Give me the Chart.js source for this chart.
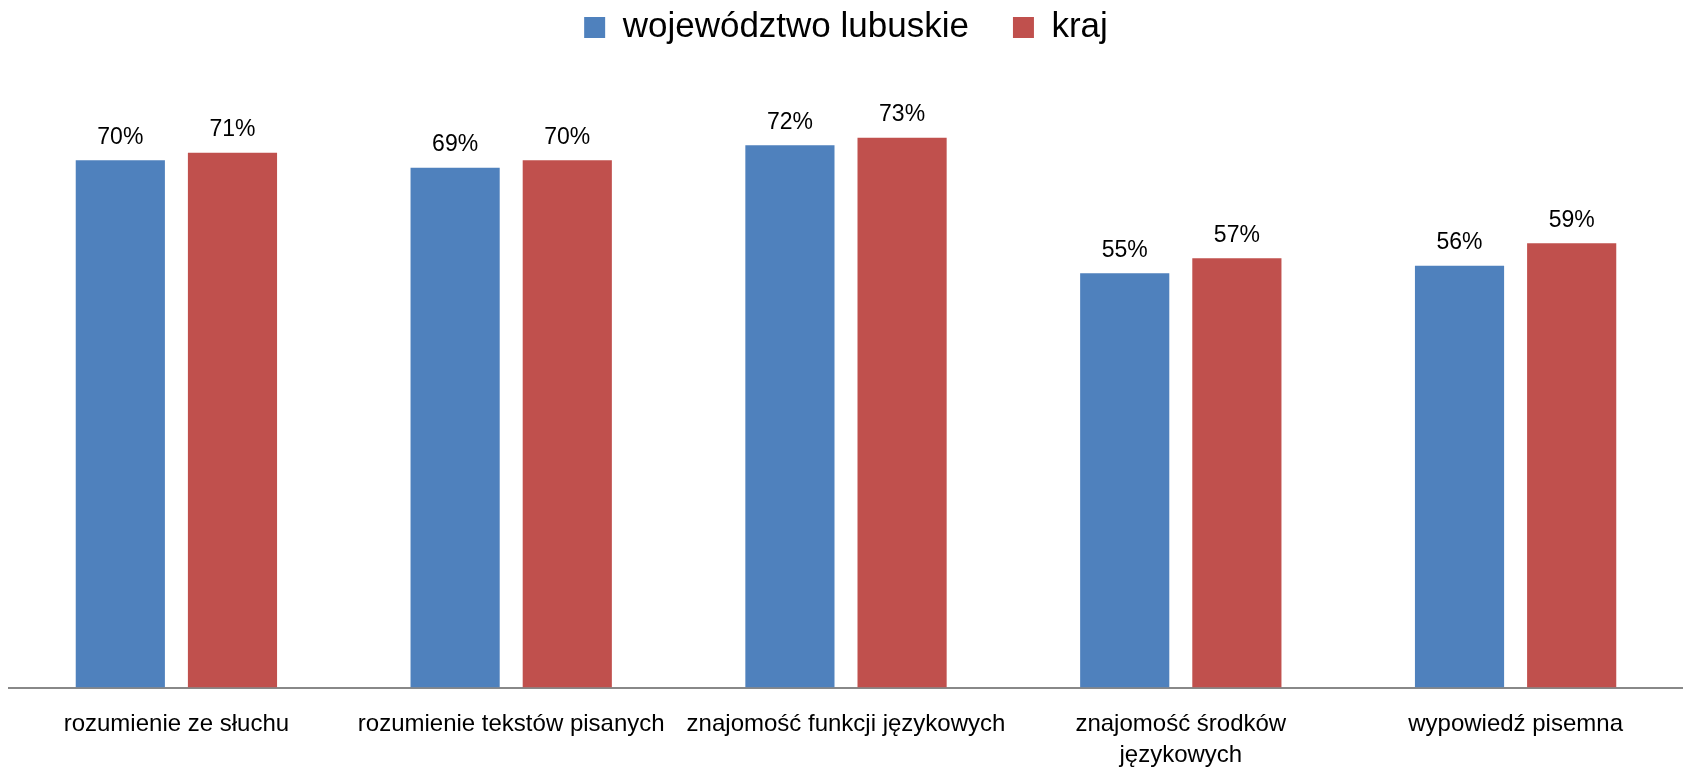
<!DOCTYPE html>
<html>
<head>
<meta charset="utf-8">
<script src="https://cdn.jsdelivr.net/npm/chart.js@4"></script>
<style>
  html, body { margin: 0; padding: 0; background: #fff; }
  #wrap { width: 1683px; height: 770px; }
</style>
</head>
<body>
<div id="wrap"><canvas id="chart"></canvas></div>
<script>
const categories = [
  "rozumienie ze słuchu",
  "rozumienie tekstów pisanych",
  "znajomość funkcji językowych",
  ["znajomość środków", "językowych"],
  "wypowiedź pisemna",
];
const lubuskie = [70, 69, 72, 55, 56];
const kraj = [71, 70, 73, 57, 59];

const FONT = "'Liberation Sans', Arial, sans-serif";

// value labels above each bar
const barLabels = {
  id: "barLabels",
  afterDatasetsDraw(chart) {
    const ctx = chart.ctx;
    ctx.save();
    ctx.font = "23px " + FONT;
    ctx.fillStyle = "#000";
    ctx.textAlign = "center";
    ctx.textBaseline = "middle";
    chart.data.datasets.forEach((ds, i) => {
      chart.getDatasetMeta(i).data.forEach((bar, j) => {
        ctx.fillText(ds.data[j] + "%", bar.x, bar.y - 23);
      });
    });
    ctx.restore();
  },
};

// push the plot area down below the legend
const legendGap = {
  id: "legendGap",
  beforeInit(chart) {
    const fit = chart.legend.fit;
    chart.legend.fit = function () {
      fit.bind(chart.legend)();
      this.height += 30;
    };
  },
};

new Chart(document.getElementById("chart"), {
  type: "bar",
  data: {
    labels: categories,
    datasets: [
      {
        label: "województwo lubuskie",
        data: lubuskie,
        backgroundColor: "#4F81BD",
        categoryPercentage: 0.67,
        barPercentage: 0.795,
      },
      {
        label: "kraj",
        data: kraj,
        backgroundColor: "#C0504D",
        categoryPercentage: 0.67,
        barPercentage: 0.795,
      },
    ],
  },
  options: {
    responsive: true,
    maintainAspectRatio: false,
    animation: false,
    layout: { padding: { left: 9, right: 0, top: -34, bottom: -22 } },
    plugins: {
      legend: {
        display: true,
        position: "top",
        labels: {
          font: { family: FONT, size: 35 },
          color: "#000",
          boxWidth: 21,
          boxHeight: 21,
          padding: 44,
        },
      },
      title: { display: false },
      tooltip: { enabled: false },
    },
    scales: {
      x: {
        grid: { display: true, drawOnChartArea: false, drawTicks: false },
        border: { display: true, color: "#888888", width: 2 },
        ticks: {
          color: "#000",
          font: { family: FONT, size: 24, lineHeight: 1.3 },
          padding: 21,
          maxRotation: 0,
          autoSkip: false,
        },
      },
      y: {
        display: false,
        beginAtZero: true,
        min: 0,
        max: 80,
      },
    },
  },
  plugins: [barLabels, legendGap],
});
</script>
</body>
</html>
